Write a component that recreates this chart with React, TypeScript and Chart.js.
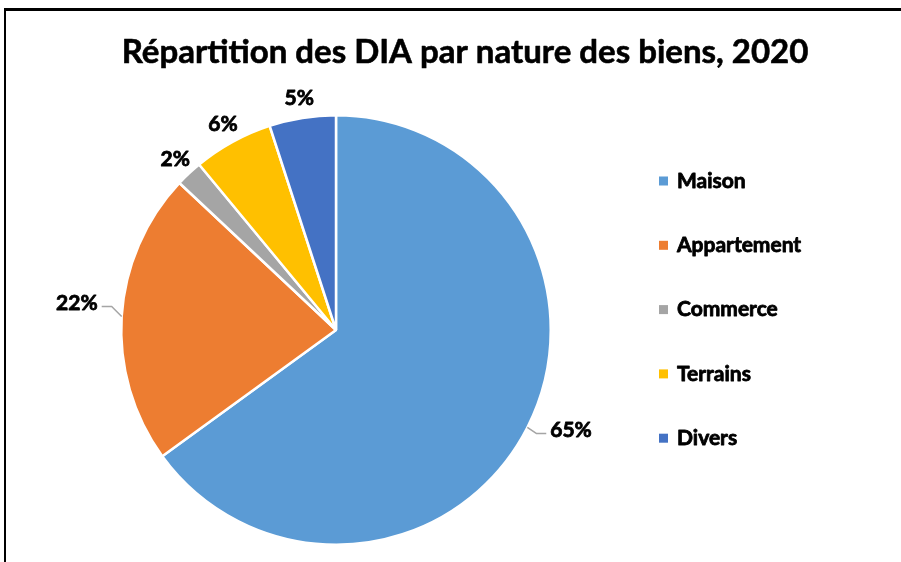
import React, { useEffect, useRef } from "react";
import { Chart, registerables } from "chart.js";

Chart.register(...registerables);

const TITLE = "Répartition des DIA par nature des biens, 2020";
const CATEGORIES = ["Maison", "Appartement", "Commerce", "Terrains", "Divers"];
const VALUES = [65, 22, 2, 6, 5];
const COLORS = ["#5B9BD5", "#ED7D31", "#A5A5A5", "#FFC000", "#4472C4"];
const LABELS = ["65%", "22%", "2%", "6%", "5%"];
const LEADER = [true, true, false, false, false];

const FONT = "Lato, 'Open Sans', sans-serif";

function heavyText(ctx: any, text: string, x: number, y: number, w: number) {
  ctx.lineWidth = w;
  ctx.strokeStyle = "#000000";
  ctx.lineJoin = "round";
  ctx.strokeText(text, x, y);
  ctx.fillText(text, x, y);
}

const overlayPlugin = {
  id: "overlay",
  beforeDraw(chart: any) {
    const ctx = chart.ctx;
    ctx.save();
    ctx.fillStyle = "#ffffff";
    ctx.fillRect(0, 0, chart.width, chart.height);
    ctx.fillStyle = "#000000";
    ctx.fillRect(4, 8, chart.width - 4, 3);
    ctx.fillRect(4, 8, 2, chart.height - 8);
    ctx.restore();
  },
  afterDraw(chart: any) {
    const ctx = chart.ctx;
    ctx.save();
    ctx.fillStyle = "#000000";
    ctx.font = `bold 33px ${FONT}`;
    ctx.textAlign = "center";
    ctx.textBaseline = "middle";
    heavyText(ctx, TITLE, 465, 52, 0.6);

    const meta = chart.getDatasetMeta(0);
    ctx.font = `bold 21px ${FONT}`;
    meta.data.forEach((arc: any, i: number) => {
      const { x, y, startAngle, endAngle, outerRadius } = arc.getProps(
        ["x", "y", "startAngle", "endAngle", "outerRadius"],
        true
      );
      const mid = (startAngle + endAngle) / 2;
      const cos = Math.cos(mid);
      const sin = Math.sin(mid);
      if (LEADER[i]) {
        const ex = x + cos * outerRadius;
        const ey = y + sin * outerRadius;
        const side = cos >= 0 ? 1 : -1;
        const kx = ex + cos * 10;
        const ky = ey + (sin >= 0 ? 6 : -10);
        const hx = kx + side * 10;
        ctx.strokeStyle = "#A5A5A5";
        ctx.lineWidth = 1.5;
        ctx.beginPath();
        ctx.moveTo(ex, ey);
        ctx.lineTo(kx, ky);
        ctx.lineTo(hx, ky);
        ctx.stroke();
        ctx.fillStyle = "#000000";
        ctx.textAlign = side > 0 ? "left" : "right";
        ctx.textBaseline = "middle";
        heavyText(ctx, LABELS[i], hx + side * 4, ky - 3, 0.8);
      } else {
        const d = outerRadius + 20;
        ctx.fillStyle = "#000000";
        ctx.textAlign = "center";
        ctx.textBaseline = "middle";
        heavyText(ctx, LABELS[i], x + cos * d, y + sin * d, 0.8);
      }
    });

    ctx.font = `bold 21px ${FONT}`;
    ctx.textAlign = "left";
    ctx.textBaseline = "middle";
    CATEGORIES.forEach((c, i) => {
      const ly = 181 + i * 64.3;
      ctx.fillStyle = COLORS[i];
      ctx.fillRect(659, ly - 4.5, 9, 9);
      ctx.fillStyle = "#000000";
      heavyText(ctx, c, 677, ly, 0.8);
    });
    ctx.restore();
  },
};

export default function App() {
  const ref = useRef<HTMLCanvasElement | null>(null);
  useEffect(() => {
    if (!ref.current) return;
    const chart = new Chart(ref.current, {
      type: "pie",
      data: {
        labels: CATEGORIES,
        datasets: [
          {
            data: VALUES,
            backgroundColor: COLORS,
            borderColor: "#ffffff",
            borderWidth: 2.5,
          },
        ],
      },
      options: {
        animation: false,
        responsive: false,
        maintainAspectRatio: false,
        layout: { padding: { left: 120, top: 114, right: 349, bottom: 16 } },
        plugins: {
          legend: { display: false },
          title: { display: false },
          tooltip: { enabled: false },
        },
      },
      plugins: [overlayPlugin],
    });
    return () => chart.destroy();
  }, []);
  return (
    <div style={{ position: "fixed", left: 0, top: 0, width: 901, height: 562 }}>
      <canvas ref={ref} width={901} height={562} style={{ width: 901, height: 562 }} />
    </div>
  );
}
